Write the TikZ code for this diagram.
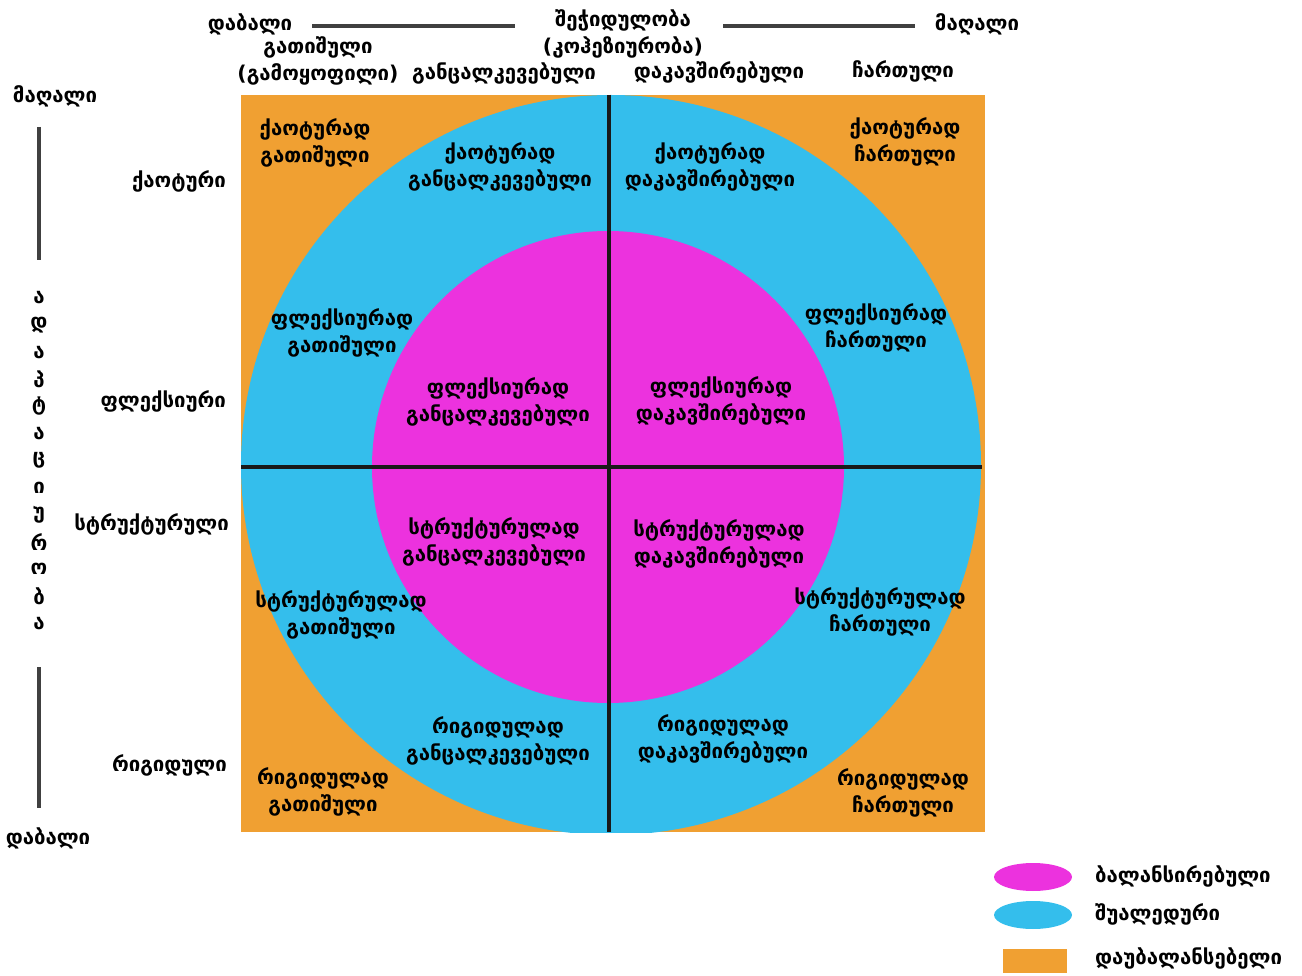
\documentclass[tikz,border=0pt]{standalone}
\usepackage{fontspec}
\setmainfont{DejaVu Sans}
\usetikzlibrary{positioning,shapes.geometric}
\definecolor{orng}{RGB}{240,160,50}
\definecolor{skyb}{RGB}{52,190,236}
\definecolor{mgnt}{RGB}{236,50,222}
\tikzset{lbl/.style={font=\bfseries\fontsize{11.6}{15}\selectfont, align=center, inner sep=1pt},
  axisline/.style={line width=2.4pt, black!75},
  divider/.style={line width=2.4pt, black!90}}
\begin{document}
\begin{tikzpicture}[x=0.02cm, y=-0.02cm]
\useasboundingbox (0,0) rectangle (1302,976);
% field and rings
\fill[orng] (241,95) rectangle (985,832);
\begin{scope}
\clip (241,95) rectangle (985,832);
\fill[skyb] (611,465) circle (370);
\end{scope}
\fill[mgnt] (608,467) circle (236);
\draw[divider] (609,95) -- (609,832);
\draw[divider] (241,467) -- (982,467);

% top axis
\node[lbl] (lowtop) at (250,24) {დაბალი};
\node[lbl] (coh) at (623,34) {შეჭიდულობა\\(კოჰეზიურობა)};
\node[lbl] (hightop) at (977,24) {მაღალი};
\coordinate (t1) at (312,26);
\coordinate (t2) at (515,26);
\coordinate (t3) at (723,26);
\coordinate (t4) at (915,26);
\draw[axisline] (t1) -- (t2);
\draw[axisline] (t3) -- (t4);

% column heads
\node[lbl] (c1) at (318,61) {გათიშული\\(გამოყოფილი)};
\node[lbl] (c2) at (504,73) {განცალკევებული};
\node[lbl] (c3) at (719,72) {დაკავშირებული};
\node[lbl] (c4) at (903,71) {ჩართული};

% left axis
\node[lbl] (highleft) at (55,96) {მაღალი};
\node[lbl] (lowleft) at (48,838) {დაბალი};
\coordinate (l1) at (39,127);
\coordinate (l2) at (39,260);
\coordinate (l3) at (39,667);
\coordinate (l4) at (39,808);
\draw[axisline] (l1) -- (l2);
\draw[axisline] (l3) -- (l4);
\foreach \ch [count=\i from 0] in {ა,დ,ა,პ,ტ,ა,ც,ი,უ,რ,ო,ბ,ა}
  \node[lbl] (v\i) at (39,298+27.1*\i) {\ch};

% row heads
\node[lbl, anchor=east] (r1) at (228,181) {ქაოტური};
\node[lbl, anchor=east] (r2) at (228,401) {ფლექსიური};
\node[lbl, anchor=east] (r3) at (231,524) {სტრუქტურული};
\node[lbl, anchor=east] (r4) at (229,765) {რიგიდული};

% cells
\node[lbl] (q11) at (315,143) {ქაოტურად\\გათიშული};
\node[lbl] (q12) at (500,167) {ქაოტურად\\განცალკევებული};
\node[lbl] (q13) at (710,167) {ქაოტურად\\დაკავშირებული};
\node[lbl] (q14) at (905,142) {ქაოტურად\\ჩართული};
\node[lbl] (q21) at (342,333) {ფლექსიურად\\გათიშული};
\node[lbl] (q22) at (498,402) {ფლექსიურად\\განცალკევებული};
\node[lbl] (q23) at (721,401) {ფლექსიურად\\დაკავშირებული};
\node[lbl] (q24) at (876,328) {ფლექსიურად\\ჩართული};
\node[lbl] (q31) at (341,615) {სტრუქტურულად\\გათიშული};
\node[lbl] (q32) at (494,542) {სტრუქტურულად\\განცალკევებული};
\node[lbl] (q33) at (719,544) {სტრუქტურულად\\დაკავშირებული};
\node[lbl] (q34) at (880,612) {სტრუქტურულად\\ჩართული};
\node[lbl] (q41) at (323,792) {რიგიდულად\\გათიშული};
\node[lbl] (q42) at (498,741) {რიგიდულად\\განცალკევებული};
\node[lbl] (q43) at (723,739) {რიგიდულად\\დაკავშირებული};
\node[lbl] (q44) at (903,793) {რიგიდულად\\ჩართული};

% legend
\node[ellipse, fill=mgnt, minimum width=1.56cm, minimum height=0.56cm] (k1) at (1033,877) {};
\node[ellipse, fill=skyb, minimum width=1.56cm, minimum height=0.56cm] (k2) at (1033,915) {};
\node[rectangle, fill=orng, minimum width=1.28cm, minimum height=0.48cm] (k3) at (1035,961) {};
\node[lbl, anchor=west] (k1t) at (1093,876) {ბალანსირებული};
\node[lbl, anchor=west] (k2t) at (1093,914) {შუალედური};
\node[lbl, anchor=west] (k3t) at (1093,958) {დაუბალანსებელი};
\end{tikzpicture}
\end{document}
